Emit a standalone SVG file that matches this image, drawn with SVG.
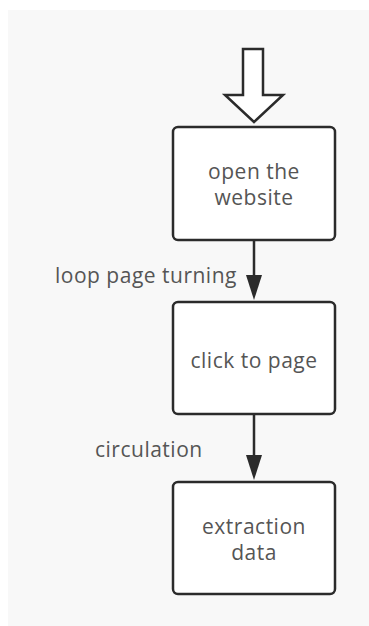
<svg xmlns="http://www.w3.org/2000/svg" width="369" height="626" viewBox="0 0 369 626">
  <style>
    .box { fill: #ffffff; stroke: #2b2b2b; stroke-width: 2.5; }
    .label { font-family: "Open Sans", "Noto Sans", "DejaVu Sans", sans-serif; font-size: 21px; letter-spacing: 0.5px; fill: #555555; }
    .mid { text-anchor: middle; }
    .edge { stroke: #2b2b2b; stroke-width: 2.5; fill: none; }
    .head { fill: #2b2b2b; }
  </style>

  <!-- canvas -->
  <rect x="0" y="0" width="369" height="626" fill="#ffffff"/>
  <rect x="8" y="10" width="361" height="616" fill="#f8f8f8"/>

  <!-- entry arrow -->
  <g id="start">
    <path d="M243,49 L263,49 L263,95 L283,95 L254,122 L225,95 L243,95 Z" fill="#ffffff" stroke="#2b2b2b" stroke-width="2.5" stroke-linejoin="miter"/>
  </g>

  <!-- connectors -->
  <g id="connectors">
    <line class="edge" x1="254" y1="241" x2="254" y2="276"/>
    <path class="head" d="M246,275 L262,275 L254,300 Z"/>
    <line class="edge" x1="254" y1="415" x2="254" y2="456"/>
    <path class="head" d="M246,455 L262,455 L254,480 Z"/>
    <text class="label" x="55" y="283">loop page turning</text>
    <text class="label" x="95" y="457">circulation</text>
  </g>

  <g id="open-website">
    <rect class="box" x="173" y="127" width="162" height="113" rx="5"/>
    <text class="label mid" x="254" y="179">open the</text>
    <text class="label mid" x="254" y="205">website</text>
  </g>

  <g id="click-page">
    <rect class="box" x="173" y="302" width="162" height="112" rx="5"/>
    <text class="label mid" x="254" y="368">click to page</text>
  </g>

  <g id="extraction-data">
    <rect class="box" x="173" y="482" width="162" height="112" rx="5"/>
    <text class="label mid" x="254" y="534">extraction</text>
    <text class="label mid" x="254" y="560">data</text>
  </g>
</svg>
